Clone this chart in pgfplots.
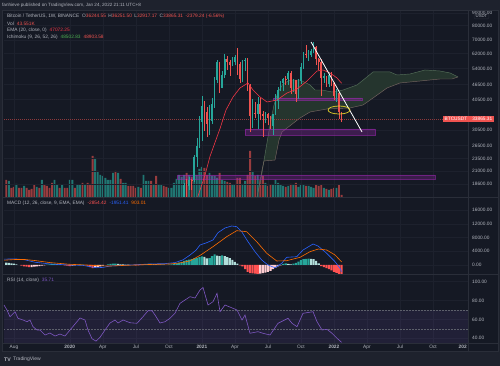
\documentclass[border=0pt]{standalone}
\usepackage{fontspec}
\setmainfont{Liberation Sans}
\usepackage{pgfplots}
\pgfplotsset{compat=1.18}

\definecolor{bgpage}{HTML}{1E222D}
\definecolor{bgchart}{HTML}{151924}
\definecolor{gridc}{HTML}{1D212D}
\definecolor{sepc}{HTML}{2A2E39}
\definecolor{txt}{HTML}{B2B5BE}
\definecolor{upc}{HTML}{26A69A}
\definecolor{dnc}{HTML}{EF5350}
\definecolor{emac}{HTML}{F23645}
\definecolor{macdc}{HTML}{2962FF}
\definecolor{sigc}{HTML}{FF6D00}
\definecolor{rsic}{HTML}{7E57C2}
\definecolor{hup}{HTML}{26A69A}
\definecolor{hupl}{HTML}{B2DFDB}
\definecolor{hdn}{HTML}{FF5252}
\definecolor{hdnl}{HTML}{FFCDD2}
\definecolor{purp}{HTML}{9C27B0}
\definecolor{leadA}{HTML}{55705A}
\definecolor{leadB}{HTML}{756460}
\definecolor{cloudc}{HTML}{25352E}
\definecolor{yel}{HTML}{E8D62A}
\definecolor{ichig}{HTML}{4CAF50}
\definecolor{dashc}{HTML}{5D606B}

\newcommand\tvf{\fontsize{4.8}{5.5}\selectfont}

\pgfplotsset{
  tvpane/.style={
    scale only axis, width=464pt,
    xmin=-76.97, xmax=105.7,
    axis line style={draw=none},
    major tick length=0pt,
    xtick={-73.07,-51.07,-38.07,-25.07,-12.07,0.93,13.93,26.93,39.93,52.93,65.93,78.93,91.93},
    xticklabels={}, scaled x ticks=false, scaled y ticks=false,
    grid=major, major grid style={draw=gridc, line width=0.5pt},
    yticklabel pos=right,
    yticklabel style={font=\tvf, text=txt, anchor=west, inner sep=0pt, xshift=4pt},
  },
}

\begin{document}
\begin{tikzpicture}
\fill[bgpage] (0pt,0pt) rectangle (500pt,366pt);
\fill[bgchart] (2pt,15pt) rectangle (498pt,356pt);

% ---------- volume (overlay in main pane) ----------
\begin{axis}[scale only axis, width=464pt, height=187pt, at={(4pt,169pt)}, anchor=south west,
  xmin=-76.97, xmax=105.7, ymin=0, ymax=3740, hide axis]
\addplot[ybar, bar width=1.9pt, bar shift=0pt, draw=none, fill=upc!66!bgchart] coordinates {
(-75.07,320) (-72.07,260) (-69.07,220) (-64.07,200) (-62.07,340) (-57.07,340) (-56.07,240) (-54.07,240)
(-51.07,340) (-50.07,340) (-48.07,240) (-47.07,240) (-45.07,240) (-41.07,780) (-40.07,520) (-39.07,440)
(-38.07,420) (-37.07,380) (-36.07,340) (-35.07,340) (-34.07,480) (-32.07,480) (-30.07,280) (-29.07,280)
(-24.07,200) (-22.07,440) (-21.07,320) (-20.07,320) (-18.07,240) (-16.07,240) (-15.07,240) (-12.07,180)
(-11.07,180) (-10.07,280) (-9.07,360) (-8.07,440) (-7.07,400) (-6.07,440) (-4.07,440) (-2.07,480)
(-1.07,440) (-0.07,560) (0.93,600) (3.93,480) (4.93,420) (5.93,420) (6.93,380) (8.93,340) (9.93,320)
(12.93,240) (13.93,240) (16.93,260) (17.93,320) (20.93,520) (22.93,440) (25.93,280) (28.93,240)
(29.93,340) (30.93,280) (31.93,240) (32.93,220) (34.93,220) (36.93,240) (38.93,200) (39.93,260)
(40.93,240) (42.93,220) (43.93,200) (44.93,180) (48.93,180) (50.93,140) (53.93,180)};
\addplot[ybar, bar width=1.9pt, bar shift=0pt, draw=none, fill=dnc!60!bgchart] coordinates {
(-76.07,340) (-74.07,180) (-73.07,200) (-71.07,180) (-70.07,180) (-68.07,180) (-67.07,140) (-66.07,160)
(-65.07,240) (-63.07,180) (-61.07,240) (-60.07,220) (-59.07,180) (-58.07,280) (-55.07,180) (-53.07,180)
(-52.07,180) (-49.07,180) (-46.07,280) (-44.07,280) (-43.07,260) (-42.07,820) (-33.07,520) (-31.07,360)
(-28.07,220) (-27.07,220) (-26.07,220) (-25.07,180) (-23.07,180) (-19.07,320) (-17.07,420) (-14.07,220)
(-13.07,200) (-5.07,480) (-3.07,400) (1.93,580) (2.93,440) (7.93,480) (10.93,300) (11.93,280)
(14.93,380) (15.93,380) (18.93,440) (19.93,920) (21.93,420) (23.93,340) (24.93,420) (26.93,220)
(27.93,240) (33.93,200) (35.93,260) (37.93,280) (41.93,220) (45.93,240) (46.93,220) (47.93,240)
(49.93,160) (51.93,160) (52.93,180) (54.93,240) (55.93,43.551)};
\end{axis}

% ---------- main price pane ----------
\begin{axis}[tvpane, at={(4pt,169pt)}, anchor=south west, height=187pt,
  ymode=log, ymin=16503, ymax=92480,
  ytick={18600,21000,23500,26500,30500,40500,46500,54000,62000,70000,80000,90000},
  yticklabels={18600.00,21000.00,23500.00,26500.00,30500.00,40500.00,46500.00,54000.00,62000.00,70000.00,80000.00,90000.00}]
% Ichimoku cloud (area between leading span A and leading span B)
\addplot[fill=cloudc, draw=none] coordinates {
(22.64,16500) (24.2,19500) (25.8,24500) (27.76,32040) (29.33,38530) (30.91,43440) (32.87,46760)
(35.63,48500) (39.57,48500) (43.50,46330) (45.47,44230) (48.23,44230) (52.17,43440) (56.50,44230)
(62.01,46330) (65.94,49880) (68.31,52230) (75.0,52230) (77.76,50800) (82.87,51270) (88.78,53200)
(94.69,52700) (98.62,51750) (101.77,49880)
(99.41,48960) (94.69,48960) (86.81,48060) (78.94,47200) (73.82,45070) (68.31,41100) (64.37,38530)
(59.25,37490) (50.20,37140) (43.50,36120) (39.57,34180) (34.45,31160) (32.48,30040) (31.30,27900)
(30.51,25450) (29.72,23200) (25.39,23000) (24.61,21160) (22.64,16500)};
\addplot[leadA, line width=0.45pt] coordinates {
(22.64,16500) (24.2,19500) (25.8,24500) (27.76,32040) (29.33,38530) (30.91,43440) (32.87,46760)
(35.63,48500) (39.57,48500) (43.50,46330) (45.47,44230) (48.23,44230) (52.17,43440) (56.50,44230)
(62.01,46330) (65.94,49880) (68.31,52230) (75.0,52230) (77.76,50800) (82.87,51270) (88.78,53200)
(94.69,52700) (98.62,51750) (101.77,49880)};
\addplot[leadB, line width=0.45pt] coordinates {
(22.64,16500) (24.61,21160) (25.39,23000) (29.72,23200) (30.51,25450) (31.30,27900) (32.48,30040)
(34.45,31160) (39.57,34180) (43.50,36120) (50.20,37140) (59.25,37490) (64.37,38530) (68.31,41100)
(73.82,45070) (78.94,47200) (86.81,48060) (94.69,48960) (99.41,48960) (101.77,49880)};
% purple zones
\addplot[fill=purp, fill opacity=0.28, draw=purp, draw opacity=0.55, line width=0.4pt] coordinates {
(-8.86,19390) (92.72,19390) (92.72,20210) (-8.86,20210) (-8.86,19390)};
\addplot[fill=purp, fill opacity=0.3, draw=purp, draw opacity=0.6, line width=0.4pt] coordinates {
(17.91,29220) (69.09,29220) (69.09,30880) (17.91,30880) (17.91,29220)};
\addplot[fill=purp, fill opacity=0.35, draw=purp, draw opacity=0.6, line width=0.4pt] coordinates {
(29.06,40350) (63.86,40350) (63.86,41100) (29.06,41100) (29.06,40350)};
% last price line
\addplot[dnc!55!bgchart, line width=0.4pt, dash pattern=on 1pt off 1pt] coordinates {(-76.97,33865.31) (105.7,33865.31)};
% candles: wicks and bodies
\addplot[upc, line width=0.5pt, unbounded coords=jump] coordinates {
(-6.07,15800) (-6.07,18800) (-6.07,nan) (-4.07,17600) (-4.07,19900) (-4.07,nan)
(-2.07,19000) (-2.07,24300) (-2.07,nan) (-1.07,21800) (-1.07,28400) (-1.07,nan)
(-0.07,26000) (-0.07,34800) (-0.07,nan) (0.93,27700) (0.93,41950) (0.93,nan)
(3.93,29200) (3.93,38500) (3.93,nan) (4.93,32300) (4.93,40950) (4.93,nan)
(5.93,37400) (5.93,49700) (5.93,nan) (6.93,47000) (6.93,58350) (6.93,nan)
(8.93,44900) (8.93,52600) (8.93,nan) (9.93,49300) (9.93,61800) (9.93,nan)
(12.93,55000) (12.93,60000) (12.93,nan) (13.93,55500) (13.93,61300) (13.93,nan)
(16.93,47500) (16.93,58500) (16.93,nan) (17.93,52900) (17.93,59500) (17.93,nan)
(20.93,31200) (20.93,40800) (20.93,nan) (22.93,31000) (22.93,41300) (22.93,nan)
(25.93,32700) (25.93,36000) (25.93,nan) (28.93,29300) (28.93,35400) (28.93,nan)
(29.93,35200) (29.93,42600) (29.93,nan) (30.93,37300) (30.93,45300) (30.93,nan)
(31.93,43700) (31.93,48100) (31.93,nan) (32.93,43900) (32.93,49400) (32.93,nan)
(34.93,46500) (34.93,52900) (34.93,nan) (36.93,43400) (36.93,48900) (36.93,nan)
(38.93,40800) (38.93,49000) (38.93,nan) (39.93,46900) (39.93,56600) (39.93,nan)
(40.93,53900) (40.93,62900) (40.93,nan) (42.93,57800) (42.93,63700) (42.93,nan)
(43.93,60100) (43.93,64300) (43.93,nan) (44.93,62300) (44.93,69000) (44.93,nan)
(48.93,47300) (48.93,51950) (48.93,nan) (50.93,45500) (50.93,52000) (50.93,nan)
(53.93,39600) (53.93,44500)};
\addplot[upc, line width=1.6pt, unbounded coords=jump] coordinates {
(-6.07,15960) (-6.07,18400) (-6.07,nan) (-4.07,18180) (-4.07,19360) (-4.07,nan)
(-2.07,19270) (-2.07,23800) (-2.07,nan) (-1.07,23800) (-1.07,26400) (-1.07,nan)
(-0.07,26400) (-0.07,33000) (-0.07,nan) (0.93,33000) (0.93,38150) (0.93,nan)
(3.93,32250) (3.93,33100) (3.93,nan) (4.93,33100) (4.93,38900) (4.93,nan)
(5.93,38900) (5.93,48600) (5.93,nan) (6.93,48600) (6.93,57400) (6.93,nan)
(8.93,45100) (8.93,50900) (8.93,nan) (9.93,50900) (9.93,59000) (9.93,nan)
(12.93,55800) (12.93,57100) (12.93,nan) (13.93,57100) (13.93,59800) (13.93,nan)
(16.93,49000) (16.93,57800) (16.93,nan) (17.93,57800) (17.93,58200) (17.93,nan)
(20.93,34700) (20.93,35700) (20.93,nan) (22.93,35500) (22.93,39000) (22.93,nan)
(25.93,34700) (25.93,35300) (25.93,nan) (28.93,31800) (28.93,35400) (28.93,nan)
(29.93,35400) (29.93,39800) (29.93,nan) (30.93,39800) (30.93,44300) (30.93,nan)
(31.93,44300) (31.93,47000) (31.93,nan) (32.93,47000) (32.93,49000) (32.93,nan)
(34.93,48800) (34.93,51800) (34.93,nan) (36.93,45200) (36.93,48300) (36.93,nan)
(38.93,42700) (38.93,48200) (38.93,nan) (39.93,48200) (39.93,54600) (39.93,nan)
(40.93,54600) (40.93,61500) (40.93,nan) (42.93,61000) (42.93,61300) (42.93,nan)
(43.93,61300) (43.93,63300) (43.93,nan) (44.93,63300) (44.93,65500) (44.93,nan)
(48.93,49400) (48.93,50100) (48.93,nan) (50.93,46700) (50.93,50800) (50.93,nan)
(53.93,41900) (53.93,43100)};
\addplot[dnc, line width=0.5pt, unbounded coords=jump] coordinates {
(-5.07,16200) (-5.07,19480) (-5.07,nan) (-3.07,17650) (-3.07,19450) (-3.07,nan)
(1.93,30400) (1.93,40100) (1.93,nan) (2.93,28800) (2.93,37850) (2.93,nan)
(7.93,43000) (7.93,57500) (7.93,nan) (10.93,53200) (10.93,60600) (10.93,nan)
(11.93,50400) (11.93,58400) (11.93,nan) (14.93,50900) (14.93,64850) (14.93,nan)
(15.93,47000) (15.93,57500) (15.93,nan) (18.93,43800) (18.93,59600) (18.93,nan)
(19.93,30000) (19.93,46600) (19.93,nan) (21.93,34200) (21.93,39500) (21.93,nan)
(23.93,33400) (23.93,41000) (23.93,nan) (24.93,28800) (24.93,36600) (24.93,nan)
(26.93,32000) (26.93,35900) (26.93,nan) (27.93,31000) (27.93,34700) (27.93,nan)
(33.93,46300) (33.93,50500) (33.93,nan) (35.93,42800) (35.93,52900) (35.93,nan)
(37.93,39600) (37.93,48400) (37.93,nan) (41.93,59500) (41.93,67000) (41.93,nan)
(45.93,55600) (45.93,66300) (45.93,nan) (46.93,53250) (46.93,59500) (46.93,nan)
(47.93,42000) (47.93,59100) (47.93,nan) (49.93,45500) (49.93,50500) (49.93,nan)
(51.93,45700) (51.93,52100) (51.93,nan) (52.93,40500) (52.93,47500) (52.93,nan)
(54.93,34000) (54.93,43500) (54.93,nan) (55.93,32917.17) (55.93,36251.50)};
\addplot[dnc, line width=1.6pt, unbounded coords=jump] coordinates {
(-5.07,18400) (-5.07,18180) (-5.07,nan) (-3.07,19360) (-3.07,19270) (-3.07,nan)
(1.93,38150) (1.93,36000) (1.93,nan) (2.93,36000) (2.93,32250) (2.93,nan)
(7.93,57400) (7.93,45100) (7.93,nan) (10.93,59000) (10.93,57500) (10.93,nan)
(11.93,57500) (11.93,55800) (11.93,nan) (14.93,59800) (14.93,56200) (14.93,nan)
(15.93,56200) (15.93,49000) (15.93,nan) (18.93,58200) (18.93,46400) (18.93,nan)
(19.93,46400) (19.93,34700) (19.93,nan) (21.93,35700) (21.93,35500) (21.93,nan)
(23.93,39000) (23.93,35500) (23.93,nan) (24.93,35500) (24.93,34700) (24.93,nan)
(26.93,35300) (26.93,34240) (26.93,nan) (27.93,34240) (27.93,31800) (27.93,nan)
(33.93,49000) (33.93,48800) (33.93,nan) (35.93,51800) (35.93,45200) (35.93,nan)
(37.93,48300) (37.93,42700) (37.93,nan) (41.93,61500) (41.93,61000) (41.93,nan)
(45.93,65500) (45.93,59000) (45.93,nan) (46.93,59000) (46.93,57300) (46.93,nan)
(47.93,57300) (47.93,49400) (47.93,nan) (49.93,50100) (49.93,46700) (49.93,nan)
(51.93,50800) (51.93,47300) (51.93,nan) (52.93,47300) (52.93,41900) (52.93,nan)
(54.93,43100) (54.93,36250) (54.93,nan) (55.93,36244.55) (55.93,33865.31)};
% EMA 20
\addplot[emac, line width=0.6pt] coordinates {
(-1.38,15800) (-0.59,16650) (2.17,20200) (4.13,24000) (8.07,31000) (10.43,36800) (13.19,41480)
(15.94,45070) (19.09,47200) (21.06,44230) (23.82,41480) (26.57,39610) (30.51,40340) (34.45,43040)
(38.39,44640) (42.32,48060) (46.26,52700) (48.62,53200) (51.38,51750) (54.13,49420) (55.94,47072.25)};
% trend line and marker ellipse
\addplot[white, line width=0.8pt] coordinates {(43.9,68880) (63.98,30040)};
\draw[yel, line width=0.7pt] (axis cs:54.92,36790) ellipse [x radius=11pt, y radius=4pt];
\end{axis}

% ---------- MACD pane ----------
\begin{axis}[tvpane, at={(4pt,92pt)}, anchor=south west, height=77pt,
  ymin=-2624, ymax=19825, ytick={0,4000,8000,12000,16000},
  yticklabels={0.00,4000.00,8000.00,12000.00,16000.00}]
\addplot[ybar, bar width=2.1pt, bar shift=0pt, draw=none, fill=hup] coordinates {
(-60.07,100) (-59.07,200) (-58.07,300) (-57.07,300) (-47.07,100) (-46.07,100) (-36.07,200) (-35.07,300)
(-34.07,400) (-33.07,400) (-22.07,100) (-21.07,200) (-20.07,300) (-19.07,300) (-12.07,100) (-11.07,200)
(-10.07,300) (-9.07,500) (-8.07,700) (-7.07,900) (-6.07,1200) (-5.07,1400) (-4.07,1600) (-3.07,1700)
(-2.07,1900) (-1.07,2100) (-0.07,2300) (0.93,2500) (3.93,2000) (4.93,2600) (5.93,3100) (8.93,2800)
(32.93,300) (33.93,500) (36.93,400) (37.93,600) (38.93,1000) (39.93,1400) (40.93,1700) (41.93,1800) (42.93,1850)};
\addplot[ybar, bar width=2.1pt, bar shift=0pt, draw=none, fill=hupl] coordinates {
(-76.07,700) (-75.07,600) (-74.07,500) (-73.07,400) (-72.07,200) (-56.07,200) (-55.07,100) (-32.07,300)
(-31.07,200) (-30.07,200) (-29.07,100) (-28.07,100) (-18.07,200) (-17.07,200) (-16.07,100) (-15.07,100)
(-14.07,100) (1.93,2400) (2.93,1900) (6.93,2700) (7.93,2600) (9.93,2600) (10.93,2300) (11.93,2000)
(12.93,1500) (13.93,900) (14.93,400) (34.93,300) (35.93,200) (43.93,1800) (44.93,1700) (45.93,1200) (46.93,500)};
\addplot[ybar, bar width=2.1pt, bar shift=0pt, draw=none, fill=hdn] coordinates {
(-70.07,-200) (-69.07,-400) (-68.07,-500) (-67.07,-600) (-53.07,-100) (-52.07,-200) (-51.07,-300)
(-44.07,-200) (-43.07,-600) (-42.07,-900) (-25.07,-100) (-24.07,-100) (15.93,-100) (16.93,-400)
(17.93,-1200) (18.93,-2000) (19.93,-2400) (20.93,-2450) (21.93,-2500) (22.93,-2600) (47.93,-300)
(48.93,-600) (49.93,-900) (50.93,-1200) (51.93,-1600) (52.93,-2000) (53.93,-2300) (54.93,-2700) (55.93,-2854.42)};
\addplot[ybar, bar width=2.1pt, bar shift=0pt, draw=none, fill=hdnl] coordinates {
(-66.07,-600) (-65.07,-500) (-64.07,-400) (-63.07,-300) (-62.07,-200) (-61.07,-100) (-50.07,-200)
(-49.07,-100) (-41.07,-800) (-40.07,-600) (-39.07,-400) (-38.07,-200) (23.93,-2500) (24.93,-2400)
(25.93,-2200) (26.93,-2000) (27.93,-1700) (28.93,-1200) (29.93,-800) (30.93,-400) (31.93,-100)};
\addplot[macdc, line width=0.6pt] coordinates {
(-76.97,1700) (-72.64,1800) (-68.70,1500) (-64.76,800) (-58.86,300) (-50.98,0) (-46,-100) (-43.11,-500)
(-40.5,-800) (-38,-700) (-35.24,-300) (-27.36,0) (-19.49,300) (-13.58,400) (-9.65,700) (-6.50,1500)
(-3.74,2900) (-1.38,4300) (0.20,5830) (2.83,6500) (5.31,7290) (7.28,9420) (10.04,10790) (12.68,11370)
(14.65,11170) (16.61,9710) (19.09,6790) (21.85,3880) (24.49,1460) (26.97,0) (29.72,-790) (32.36,500)
(34.33,2240) (38.27,2420) (40.75,4370) (44.69,6120) (46.65,5540) (50.08,3410) (53.35,960) (55.31,-960) (55.94,-1951.41)};
\addplot[sigc, line width=0.6pt] coordinates {
(-76.97,1400) (-72.64,1600) (-68.70,1600) (-64.76,1300) (-58.86,700) (-50.98,200) (-43.11,-50)
(-39.17,-250) (-35.24,-300) (-27.36,-50) (-19.49,150) (-11.61,300) (-7.68,600) (-3.74,1200) (0.20,2800)
(5.31,5340) (10.71,8250) (14.65,10000) (18.58,9710) (22.52,6790) (26.46,3410) (30.39,1170) (34.33,1250)
(39.57,2240) (43.50,3880) (46.77,4660) (50.08,4370) (53.35,2920) (55.94,903.01)};
\end{axis}

% ---------- RSI pane ----------
\begin{axis}[tvpane, at={(4pt,23pt)}, anchor=south west, height=69pt,
  ymin=35, ymax=108.2, ytick={40,60,80,100}, yticklabels={40.00,60.00,80.00,100.00},
  xticklabels={Aug,\textbf{2020},Apr,Jul,Oct,\textbf{2021},Apr,Jul,Oct,\textbf{2022},Apr,Jul,Oct},
  xticklabel style={font=\tvf, text=txt, anchor=base, yshift=-6pt, inner sep=0pt},
  extra x ticks={103.6}, extra x tick labels={\textbf{202}}, extra x tick style={grid=none}]
\addplot[draw=none, fill=rsic, fill opacity=0.12] coordinates {
(-76.97,30) (105.7,30) (105.7,70) (-76.97,70) (-76.97,30)};
\addplot[dashc, line width=0.5pt, dash pattern=on 1.5pt off 1.5pt] coordinates {(-76.97,70) (105.7,70)};
\addplot[dashc, line width=0.5pt, dash pattern=on 1.5pt off 1.5pt] coordinates {(-76.97,50) (105.7,50)};
\addplot[rsic, line width=0.6pt] coordinates {
(-76.97,75.3) (-75.79,70.0) (-74.61,62.9) (-72.64,68.2) (-71.46,61.2) (-69.49,59.4) (-67.91,57.6)
(-66.73,59.4) (-65.55,52.3) (-63.98,48.8) (-62.80,48.8) (-60.83,43.5) (-58.86,45.6) (-56.89,42.4)
(-54.92,44.5) (-52.95,42.4) (-50.98,48.8) (-49.02,55.1) (-47.05,61.5) (-45.08,59.4) (-43.90,48.8)
(-42.32,39.5) (-40.75,37.0) (-39.17,41.0) (-37.20,48.8) (-35.24,56.2) (-33.27,59.4) (-32.09,56.2)
(-30.12,59.4) (-27.36,56.5) (-24.61,55.9) (-22.24,62.9) (-20.28,69.2) (-18.70,69.2) (-17.52,64.7)
(-15.55,56.2) (-13.58,57.6) (-11.61,61.2) (-9.65,66.5) (-7.68,77.1) (-5.71,80.6) (-3.74,84.1)
(-1.77,82.7) (0.20,91.2) (1.38,93.9) (3.35,75.3) (5.31,78.8) (6.89,87.7) (8.07,68.2) (10.04,75.3)
(13.19,71.8) (14.76,70.0) (16.73,59.4) (17.91,64.7) (19.88,45.3) (23.03,47.0) (25.0,45.3) (27.76,43.5)
(30.91,55.9) (34.84,61.2) (36.42,55.9) (38.39,52.3) (40.75,66.5) (44.69,68.2) (46.26,57.6) (48.23,48.8)
(50.20,49.5) (52.17,45.3) (54.13,40.0) (55.94,35.71)};
\end{axis}

% ---------- separators ----------
\draw[sepc, line width=0.6pt] (2pt,169pt) -- (498pt,169pt);
\draw[sepc, line width=0.6pt] (2pt,92pt) -- (498pt,92pt);
\draw[sepc, line width=0.6pt] (2pt,23pt) -- (498pt,23pt);
\draw[sepc, line width=0.6pt] (468pt,15pt) -- (468pt,356pt);
\draw[sepc, line width=0.6pt] (2pt,15pt) rectangle (498pt,356pt);

% ---------- texts ----------
\node[anchor=west, inner sep=0pt, text=txt, font=\fontsize{4.6}{5.5}\selectfont] at (2pt,361pt)
  {fanhieve published on TradingView.com, Jan 24, 2022 21:11 UTC+8};
\node[anchor=west, inner sep=0pt, text=txt, font=\tvf] at (7pt,349.3pt)
  {Bitcoin / TetherUS, 1W, BINANCE\hspace{3pt}O\textcolor{dnc}{36244.55}\hspace{2.5pt}H\textcolor{dnc}{36251.50}\hspace{2.5pt}L\textcolor{dnc}{32917.17}\hspace{2.5pt}C\textcolor{dnc}{33865.31}\hspace{2.5pt}\textcolor{dnc}{-2379.24 (-6.56\%)}};
\node[anchor=west, inner sep=0pt, text=txt, font=\tvf] at (7pt,342.5pt) {Vol\hspace{3pt}\textcolor{dnc}{43.551K}};
\node[anchor=west, inner sep=0pt, text=txt, font=\tvf] at (7pt,335.5pt) {EMA (20, close, 0)\hspace{3pt}\textcolor{emac}{47072.25}};
\node[anchor=west, inner sep=0pt, text=txt, font=\tvf] at (7pt,328.8pt) {Ichimoku (9, 26, 52, 26)\hspace{3pt}\textcolor{ichig}{48502.83}\hspace{3pt}\textcolor{dnc}{48903.58}};
\node[anchor=west, inner sep=0pt, text=txt, font=\tvf] at (7pt,163pt)
  {MACD (12, 26, close, 9, EMA, EMA)\hspace{3pt}\textcolor{hdn}{-2854.42}\hspace{3pt}\textcolor{macdc}{-1951.41}\hspace{3pt}\textcolor{sigc}{903.01}};
\node[anchor=west, inner sep=0pt, text=txt, font=\tvf] at (7pt,86pt) {RSI (14, close)\hspace{3pt}\textcolor{rsic}{35.71}};

% price label and currency box
\node[anchor=east, fill=dnc, text=white, font=\tvf, inner xsep=1.5pt, inner ysep=1pt, minimum height=6.5pt] at (494pt,247pt)
  {BTCUSDT\hspace{5pt}33865.31};
\node[fill=bgchart, draw=sepc, rounded corners=1pt, text=txt, font=\fontsize{4.3}{5}\selectfont, inner xsep=1.5pt, inner ysep=0.8pt] at (481.5pt,349.5pt) {USDT};

% footer
\node[anchor=west, inner sep=0pt, text=txt, font=\fontsize{5.2}{6}\selectfont\bfseries] at (4pt,6.5pt) {TV};
\node[anchor=west, inner sep=0pt, text=txt, font=\fontsize{5}{6}\selectfont] at (13pt,6.5pt) {TradingView};

\pgfresetboundingbox
\useasboundingbox (0pt,0pt) rectangle (500pt,366pt);
\end{tikzpicture}
\end{document}
